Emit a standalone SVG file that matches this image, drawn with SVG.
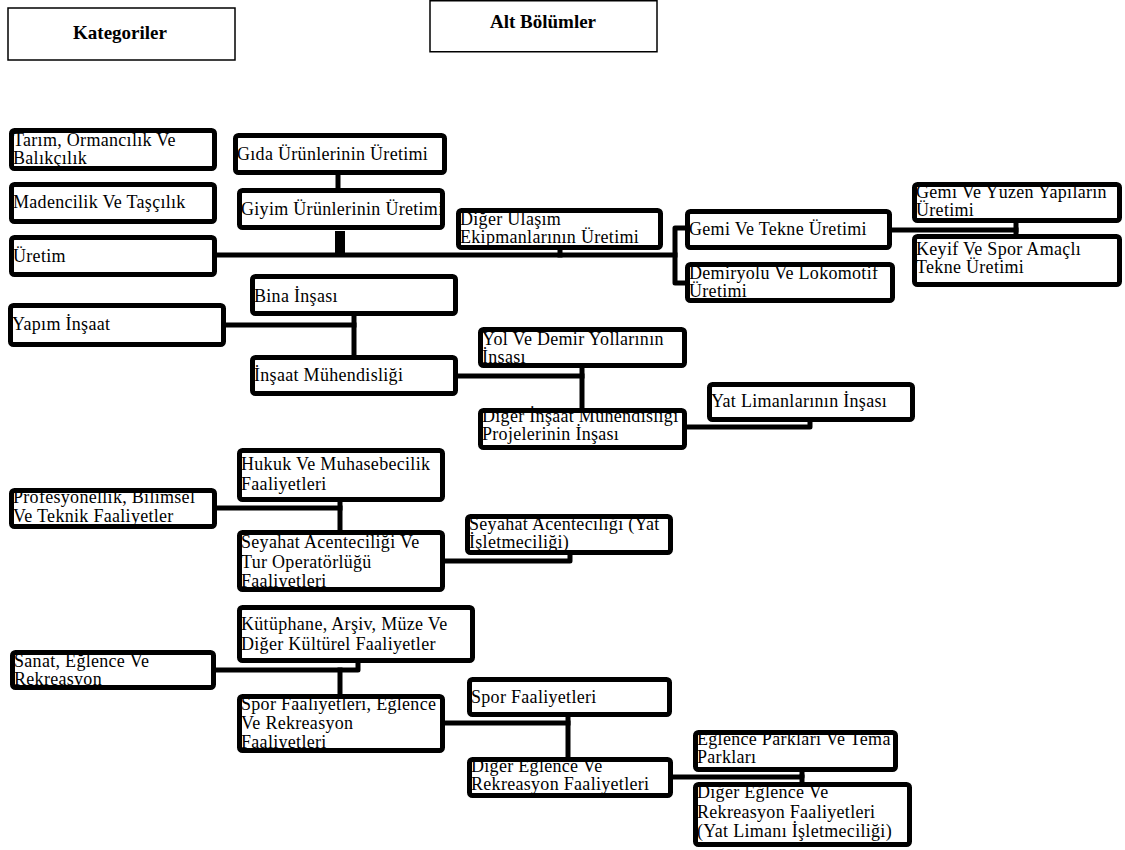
<svg xmlns="http://www.w3.org/2000/svg" width="1125" height="850" viewBox="0 0 1125 850">
<style>
  .n rect { fill: #fff; stroke: #000; stroke-width: 5; }
  .n text { font-family: "Liberation Serif", "Times New Roman", serif; font-size: 18px; letter-spacing: 0.3px; fill: #000; }
  .h rect { fill: #fff; stroke: #000; stroke-width: 1.5; }
  .h text { font-family: "Liberation Serif", "Times New Roman", serif; font-size: 19px; font-weight: bold; text-anchor: middle; fill: #000; }
  .c path { fill: none; stroke: #000; stroke-width: 5; stroke-linecap: square; stroke-linejoin: round; }
</style>
<rect width="1125" height="850" fill="#fff"/>

<g id="header-kategoriler" class="h">
  <rect x="8" y="8" width="227" height="52"/>
  <text x="120" y="39">Kategoriler</text>
</g>
<g id="header-alt-bolumler" class="h">
  <rect x="430" y="0.75" width="227" height="51"/>
  <text x="543" y="28">Alt Bölümler</text>
</g>

<g id="connectors" class="c">
  <path d="M338 175 V188"/>
  <path d="M340 231 V254" style="stroke-width:10;stroke-linecap:butt"/>
  <path d="M217 255 H675"/>
  <path d="M560 250 V255"/>
  <path d="M686 228 H675 V283 H686"/>
  <path d="M892 230 H1016"/>
  <path d="M1016 222 V235"/>
  <path d="M226 325 H354"/>
  <path d="M354 316 V355"/>
  <path d="M458 376 H582"/>
  <path d="M582 368 V409"/>
  <path d="M687 427 H810 V422"/>
  <path d="M217 508 H340"/>
  <path d="M340 502 V530"/>
  <path d="M445 561 H570 V555"/>
  <path d="M216 670 H358 V663"/>
  <path d="M340 670 V694"/>
  <path d="M445 723 H568"/>
  <path d="M568 717 V757"/>
  <path d="M673 777 H802 V772"/>
  <path d="M802 777 V782"/>
</g>

<g id="n-tarim" class="n">
  <rect x="11.5" y="130.5" width="203" height="38" rx="3"/>
  <text x="13" y="146">Tarım, Ormancılık Ve<tspan x="13" dy="18">Balıkçılık</tspan></text>
</g>
<g id="n-madencilik" class="n">
  <rect x="11.5" y="184.5" width="203" height="37" rx="3"/>
  <text x="13" y="208">Madencilik Ve Taşçılık</text>
</g>
<g id="n-uretim" class="n">
  <rect x="11.5" y="237.5" width="203" height="37" rx="3"/>
  <text x="13" y="262">Üretim</text>
</g>
<g id="n-gida" class="n">
  <rect x="235.5" y="135.5" width="209" height="37" rx="3"/>
  <text x="237" y="160">Gıda Ürünlerinin Üretimi</text>
</g>
<g id="n-giyim" class="n">
  <rect x="239.5" y="190.5" width="203" height="37" rx="3"/>
  <text x="241" y="215">Giyim Ürünlerinin Üretimi</text>
</g>
<g id="n-diger-ulasim" class="n">
  <rect x="458.5" y="210.5" width="202" height="37" rx="3"/>
  <text x="460" y="225">Diğer Ulaşım<tspan x="460" dy="18">Ekipmanlarının Üretimi</tspan></text>
</g>
<g id="n-gemi-tekne" class="n">
  <rect x="687.5" y="211.5" width="202" height="36" rx="3"/>
  <text x="689" y="235">Gemi Ve Tekne Üretimi</text>
</g>
<g id="n-demiryolu" class="n">
  <rect x="687.5" y="264.5" width="205" height="36" rx="3"/>
  <text x="689" y="279">Demiryolu Ve Lokomotif<tspan x="689" dy="18">Üretimi</tspan></text>
</g>
<g id="n-gemi-yuzen" class="n">
  <rect x="914.5" y="184.5" width="205" height="36" rx="3"/>
  <text x="916" y="198">Gemi Ve Yüzen Yapıların<tspan x="916" dy="18">Üretimi</tspan></text>
</g>
<g id="n-keyif" class="n">
  <rect x="914.5" y="236.5" width="205" height="48" rx="3"/>
  <text x="916" y="255">Keyif Ve Spor Amaçlı<tspan x="916" dy="18">Tekne Üretimi</tspan></text>
</g>
<g id="n-bina" class="n">
  <rect x="252.5" y="276.5" width="203" height="37" rx="3"/>
  <text x="254" y="302">Bina İnşası</text>
</g>
<g id="n-yapim" class="n">
  <rect x="10.5" y="305.5" width="213" height="39" rx="3"/>
  <text x="12" y="330">Yapım İnşaat</text>
</g>
<g id="n-insaat-muh" class="n">
  <rect x="252.5" y="357.5" width="203" height="36" rx="3"/>
  <text x="254" y="381">İnşaat Mühendisliği</text>
</g>
<g id="n-yol" class="n">
  <rect x="480.5" y="329.5" width="204" height="36" rx="3"/>
  <text x="482" y="345">Yol Ve Demir Yollarının<tspan x="482" dy="18">İnşası</tspan></text>
</g>
<g id="n-diger-insaat" class="n">
  <rect x="480.5" y="410.5" width="204" height="37" rx="3"/>
  <text x="482" y="422">Diğer İnşaat Mühendisliği<tspan x="482" dy="18">Projelerinin İnşası</tspan></text>
</g>
<g id="n-yat-liman" class="n">
  <rect x="709.5" y="384.5" width="203" height="35" rx="3"/>
  <text x="711" y="407">Yat Limanlarının İnşası</text>
</g>
<g id="n-hukuk" class="n">
  <rect x="239.5" y="450.5" width="203" height="49" rx="3"/>
  <text x="241" y="470">Hukuk Ve Muhasebecilik<tspan x="241" dy="20">Faaliyetleri</tspan></text>
</g>
<g id="n-profesyonellik" class="n">
  <rect x="11.5" y="490.5" width="203" height="36" rx="3"/>
  <text x="13" y="503">Profesyonellik, Bilimsel<tspan x="13" dy="19">Ve Teknik Faaliyetler</tspan></text>
</g>
<g id="n-seyahat" class="n">
  <rect x="239.5" y="532.5" width="203" height="57" rx="3"/>
  <text x="241" y="548">Seyahat Acenteciliği Ve<tspan x="241" dy="19.5">Tur Operatörlüğü</tspan><tspan x="241" dy="19.5">Faaliyetleri</tspan></text>
</g>
<g id="n-seyahat-yat" class="n">
  <rect x="467.5" y="516.5" width="203" height="36" rx="3"/>
  <text x="469" y="530">Seyahat Acenteciliği (Yat<tspan x="469" dy="18">İşletmeciliği)</tspan></text>
</g>
<g id="n-kutuphane" class="n">
  <rect x="239.5" y="607.5" width="233" height="53" rx="3"/>
  <text x="241" y="630">Kütüphane, Arşiv, Müze Ve<tspan x="241" dy="20">Diğer Kültürel Faaliyetler</tspan></text>
</g>
<g id="n-sanat" class="n">
  <rect x="12.5" y="652.5" width="201" height="35" rx="3"/>
  <text x="14" y="667">Sanat, Eğlence Ve<tspan x="14" dy="18">Rekreasyon</tspan></text>
</g>
<g id="n-spor-eglence" class="n">
  <rect x="239.5" y="696.5" width="203" height="54" rx="3"/>
  <text x="241" y="710">Spor Faaliyetleri, Eğlence<tspan x="241" dy="19">Ve Rekreasyon</tspan><tspan x="241" dy="19">Faaliyetleri</tspan></text>
</g>
<g id="n-spor" class="n">
  <rect x="469.5" y="679.5" width="200" height="35" rx="3"/>
  <text x="471" y="703">Spor Faaliyetleri</text>
</g>
<g id="n-diger-eglence" class="n">
  <rect x="469.5" y="759.5" width="201" height="36" rx="3"/>
  <text x="471" y="772">Diğer Eğlence Ve<tspan x="471" dy="18">Rekreasyon Faaliyetleri</tspan></text>
</g>
<g id="n-eglence-parklari" class="n">
  <rect x="695.5" y="732.5" width="200" height="37" rx="3"/>
  <text x="697" y="745">Eğlence Parkları Ve Tema<tspan x="697" dy="18">Parkları</tspan></text>
</g>
<g id="n-diger-eglence-yat" class="n">
  <rect x="695.5" y="784.5" width="214" height="60" rx="3"/>
  <text x="697" y="798">Diğer Eğlence Ve<tspan x="697" dy="19.5">Rekreasyon Faaliyetleri</tspan><tspan x="697" dy="19.5">(Yat Limanı İşletmeciliği)</tspan></text>
</g>
</svg>
